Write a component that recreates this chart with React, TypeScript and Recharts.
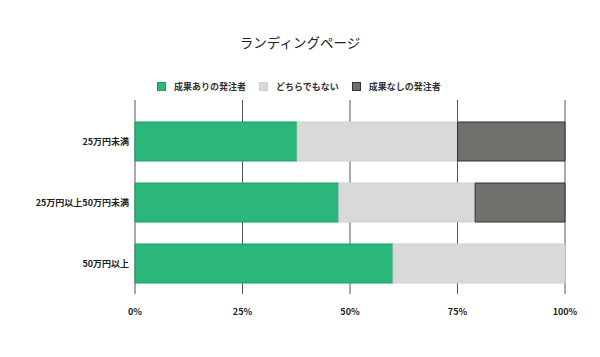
import React from 'react';
import { BarChart, Bar, XAxis, YAxis, CartesianGrid } from 'recharts';

const categories = ['25万円未満', '25万円以上50万円未満', '50万円以上'];
const withResults = [37.7, 47.4, 60];
const neither = [37.3, 31.7, 40];
const noResults = [25, 20.9, 0];
const xTicks = [0, 25, 50, 75, 100];

const seriesNames = ['成果ありの発注者', 'どちらでもない', '成果なしの発注者'];
const seriesFill = ['#2bb67b', '#d9d9d9', '#6f716c'];
const seriesStroke = ['#17a060', '#cfcfcf', '#333333'];

const data = categories.map((name, i) => ({
  name,
  a: withResults[i],
  b: neither[i],
  c: noResults[i],
}));

const font = '"Noto Sans CJK JP", "Noto Sans", sans-serif';

export default function App() {
  return (
    <div style={{ position: 'absolute', left: 0, top: 0, width: 600, height: 357, background: '#fff', fontFamily: font }}>
      <div
        style={{
          position: 'absolute',
          top: 32,
          left: 0,
          width: 600,
          textAlign: 'center',
          fontSize: 13.5,
          color: '#222',
        }}
      >
        ランディングページ
      </div>
      <div
        style={{
          position: 'absolute',
          top: 80,
          left: 157,
          display: 'flex',
          alignItems: 'center',
          fontSize: 9,
          fontWeight: 'bold',
          color: '#333',
        }}
      >
        {seriesNames.map((n, i) => (
          <div key={n} style={{ display: 'flex', alignItems: 'center', marginRight: 13 }}>
            <span
              style={{
                display: 'inline-block',
                width: 9,
                height: 9,
                background: seriesFill[i],
                border: `1px solid ${seriesStroke[i]}`,
                boxSizing: 'border-box',
                marginRight: 8,
              }}
            />
            <span>{n}</span>
          </div>
        ))}
      </div>
      <BarChart
        width={600}
        height={357}
        data={data}
        layout="vertical"
        margin={{ top: 100, right: 35, left: 0, bottom: 33 }}
        barSize={39}
      >
        <CartesianGrid horizontal={false} stroke="#555" />
        <XAxis
          type="number"
          domain={[0, 100]}
          ticks={xTicks}
          tickFormatter={(v) => `${v}%`}
          axisLine={false}
          tickLine={false}
          tickSize={0}
          tickMargin={15}
          tick={{ fontSize: 9, fontWeight: 'bold', fill: '#222', fontFamily: font }}
        />
        <YAxis
          type="category"
          dataKey="name"
          width={135}
          padding={{ top: 11, bottom: 0 }}
          axisLine={false}
          tickLine={false}
          tickSize={0}
          tickMargin={6}
          tick={{ fontSize: 9, fontWeight: 'bold', fill: '#222', fontFamily: font }}
        />
        {['a', 'b', 'c'].map((k, i) => (
          <Bar
            key={k}
            dataKey={k}
            stackId="s"
            name={seriesNames[i]}
            fill={seriesFill[i]}
            stroke={seriesStroke[i]}
            strokeWidth={1}
            isAnimationActive={false}
          />
        ))}
      </BarChart>
    </div>
  );
}
